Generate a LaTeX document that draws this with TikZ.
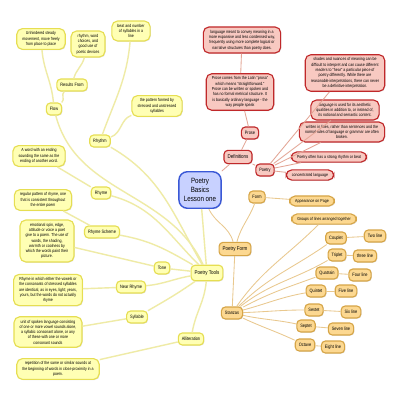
\documentclass[tikz,border=0pt]{standalone}
\usepackage{fontspec}
\newfontfamily\mapfont[FakeStretch=0.82]{Liberation Sans}
\usetikzlibrary{shadows}
\definecolor{toolfill}{HTML}{FFFFB4}
\definecolor{toolborder}{HTML}{E6DE52}
\definecolor{toolline}{HTML}{EFEBA6}
\definecolor{deffill}{HTML}{F8C9C1}
\definecolor{defborder}{HTML}{C0282A}
\definecolor{defline}{HTML}{E3A595}
\definecolor{formfill}{HTML}{FCD891}
\definecolor{formborder}{HTML}{D6A547}
\definecolor{formline}{HTML}{E9C88E}
\definecolor{hubfill}{HTML}{C8D1FF}
\definecolor{hubborder}{HTML}{3A58D6}

\begin{document}
\begin{tikzpicture}[x=0.025cm, y=-0.025cm,
box/.style={draw, line width=0.8pt, rounded corners=2.8pt, align=center,
  inner xsep=2.5pt, inner ysep=0pt, minimum height=8.5pt,
  font=\mapfont\fontsize{3.4}{4}\selectfont,
  drop shadow={opacity=0.25, shadow xshift=0.5pt, shadow yshift=-0.5pt}},
branch/.style={box, minimum height=9.5pt, font=\mapfont\fontsize{3.9}{4.6}\selectfont},
note/.style={box, rounded corners=4pt, inner xsep=4pt, inner ysep=2.2pt,
  minimum height=0pt, font=\mapfont\fontsize{3.1}{3.75}\selectfont},
hub/.style={box, line width=1pt, fill=hubfill, draw=hubborder, rounded corners=6pt,
  minimum width=30pt, minimum height=26pt,
  font=\mapfont\fontsize{5.4}{6.7}\selectfont},
tool/.style={fill=toolfill, draw=toolborder},
defn/.style={fill=deffill, draw=defborder},
form/.style={fill=formfill, draw=formborder},
tline/.style={draw=toolline, line width=1pt},
dline/.style={draw=defline, line width=0.6pt},
fline/.style={draw=formline, line width=0.6pt}
]
\fill[white] (0,0) rectangle (400,400);
\useasboundingbox (0,0) rectangle (400,400);

\node[hub] (basics) at (200,190) {Poetry\\Basics\\Lesson one};

\node[branch,defn] (defs) at (238,157) {Definitions};
\node[box,defn] (prose) at (250,133) {Prose};
\node[box,defn] (poetry) at (265,170) {Poetry};
\node[note,defn] (prosefrom) at (240,92) {Prose comes from the Latin "prosa"\\which means "straightforward."\\Prose can be written or spoken and\\has no formal metrical structure. It\\is basically ordinary language - the\\way people speak};
\node[note,defn] (prosemeant) at (242,40) {language meant to convey meaning in a\\more expansive and less condensed way,\\frequently using more complete logical or\\narrative structures than poetry does.};
\node[note,defn] (shades) at (345,73) {shades and nuances of meaning can be\\difficult to interpret and can cause different\\readers to "hear" a particular piece of\\poetry differently. While there are\\reasonable interpretations, there can never\\be a definitive interpretation.};
\node[note,defn] (aesthetic) at (345,110) {language is used for its aesthetic\\qualities in addition to, or instead of,\\its notional and semantic content.};
\node[note,defn] (lines) at (342,132) {written in lines, rather than sentences and the\\normal rules of language or grammar are often\\broken.};
\node[note,defn] (strongbeat) at (329,157) {Poetry often has a strong rhythm or beat};
\node[note,defn] (concentrated) at (310,175) {concentrated language};

\node[branch,form] (pform) at (235,249) {Poetry Form};
\node[box,form] (form) at (257,197) {Form};
\node[note,form] (page) at (312,201) {Appearance on Page};
\node[box,form] (stanzas) at (232,313) {Stanzas};
\node[note,form] (groups) at (324,219) {Groups of lines arranged together};

\node[branch,tool, minimum height=11pt] (tools) at (207,273) {Poetry Tools};
\node[box,tool] (rhythm) at (100,141) {Rhythm};
\node[box,tool] (flow) at (54,109) {Flow};
\node[box,tool] (results) at (72,85) {Results From};
\node[box,tool] (rhyme) at (101,193) {Rhyme};
\node[box,tool] (scheme) at (102,232) {Rhyme Scheme};
\node[box,tool] (tone) at (162,268) {Tone};
\node[box,tool] (near) at (131,287) {Near Rhyme};
\node[box,tool] (syllable) at (137,317) {Syllable};
\node[box,tool] (allit) at (191,339) {Alliteration};
\node[note,tool] (unhindered) at (41,39) {Unhindered steady\\movement, move freely\\from place to place};
\node[note,tool] (choices) at (88,44) {rhythm, word\\choices, and\\good use of\\poetic devices};
\node[note,tool] (meter) at (131,31) {beat and number\\of syllables in a\\line};
\node[note,tool] (pattern) at (157,106) {the pattern formed by\\stressed and unstressed\\syllables};
\node[note,tool] (ending) at (39,156) {A word with an ending\\sounding the same as the\\ending of another word.};
\node[note,tool] (regular) at (43,200) {regular pattern of rhyme, one\\that is consistent throughout\\the entire poem};
\node[note,tool] (spin) at (47,241) {emotional spin, edge,\\attitude or voice a poet\\give to a poem. The use of\\words, the shading,\\warmth or coolness by\\which the words paint their\\picture.};
\node[note,tool] (nearnote) at (48,290) {Rhyme in which either the vowels or\\the consonants of stressed syllables\\are identical, as in eyes, light; years,\\yours, but the words do not actually\\rhyme};
\node[note,tool] (unit) at (48,332) {unit of spoken language consisting\\of one or more vowel sounds alone,\\a syllabic consonant alone, or any\\of these with one or more\\consonant sounds};
\node[note,tool] (repetition) at (58,369) {repetition of the same or similar sounds at\\the beginning of words in close proximity in a\\poem.};

\draw[tline] (basics) to[out=-85,in=95] (tools);
\draw[dline] (basics) -- (defs);
\draw[fline] (basics) to[out=-65,in=105] (pform);

\draw[dline] (defs) -- (prose);
\draw[dline] (prose) -- (prosefrom);
\draw[dline] (prosefrom) -- (prosemeant);
\draw[dline] (defs) -- (poetry);
\foreach \t in {shades,aesthetic,lines,strongbeat,concentrated}
  \draw[dline] (poetry) -- (\t);

\draw[fline] (pform) to[out=75,in=-110] (form);
\draw[fline] (form) -- (page);
\draw[fline] (pform) -- (stanzas);
\draw[fline] (stanzas) to[out=55,in=225] (groups);
\foreach \name/\len/\x/\y/\lx/\ly/\oa/\ia in {
  Couplet/Two line/336/238/375/236/45/215,
  Triplet/three line/337/255/365/256/38/210,
  Quatrain/Four line/327/273/360/275/28/200,
  Quintet/Five line/316/291/346/291/15/190,
  Sestet/Six line/314/310/351/312/2/180,
  Septet/Seven line/306/326/341/329/-12/168,
  Octave/Eight line/305/345/333/347/-25/155}{
  \node[box,form] (\name) at (\x,\y) {\name};
  \node[box,form] (\name-n) at (\lx,\ly) {\len};
  \draw[fline] (\name) -- (\name-n);
  \draw[fline] (stanzas) to[out=\oa,in=\ia] (\name);
}

\draw[tline] (tools) to[out=120,in=-30] (rhythm);
\draw[tline] (tools) to[out=115,in=-75] (flow);
\draw[tline] (tools) to[out=135,in=-15] (rhyme);
\draw[tline] (tools) to[out=150,in=-10] (scheme);
\draw[tline] (tools) -- (tone);
\draw[tline] (tools) to[out=190,in=5] (near);
\draw[tline] (tools) to[out=215,in=30] (syllable);
\draw[tline] (tools) to[out=-95,in=80] (allit);

\draw[tline] (rhythm) to[out=70,in=-95] (meter);
\draw[tline] (rhythm) to[out=20,in=200] (pattern);
\draw[tline] (flow) to[out=95,in=-85] (unhindered);
\draw[tline] (flow) to[out=40,in=220] (results);
\draw[tline] (results) to[out=75,in=-105] (choices);
\draw[tline] (rhyme) -- (ending);
\draw[tline] (scheme) -- (regular);
\draw[tline] (tone) -- (spin);
\draw[tline] (near) -- (nearnote);
\draw[tline] (syllable) -- (unit);
\draw[tline] (allit) -- (repetition);

\end{tikzpicture}
\end{document}
